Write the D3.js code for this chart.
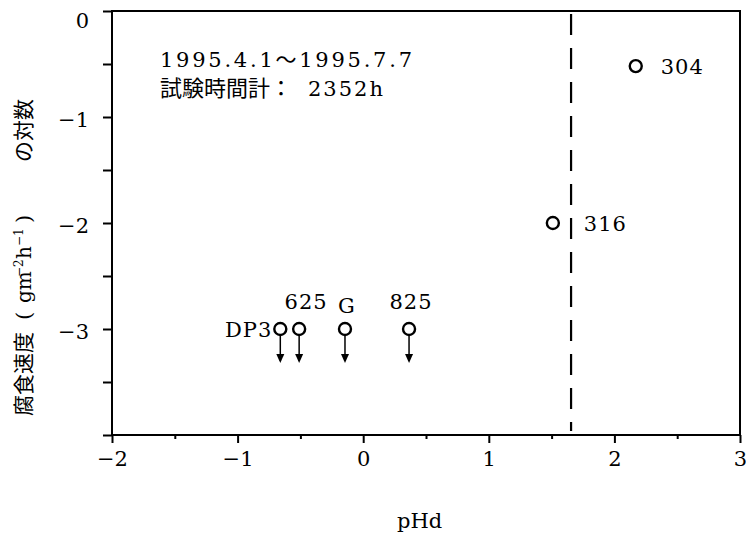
<!DOCTYPE html>
<html><head><meta charset="utf-8">
<script src="https://cdn.jsdelivr.net/npm/d3@7"></script>
<style>body{margin:0;background:#fff}</style></head>
<body><svg id="c" width="746" height="544"></svg>
<script>
const names = ["DP3","625","G","825","316","304"];
const pHd = [-0.66,-0.51,-0.145,0.365,1.51,2.17];
const logRate = [-3,-3,-3,-3,-2,-0.52];
const belowLimit = [true,true,true,true,false,false];
const xTicks = [-2,-1,0,1,2,3];
const yTicks = [0,-1,-2,-3];
const thresholdPHd = 1.655;
const notePeriod = "1995.4.1～1995.7.7";
const noteHours = ["試験時間計：","2352h"];

const font = "'DejaVu Serif','Liberation Serif','Noto Sans CJK JP',serif";
const cjk = "'Noto Sans CJK JP','DejaVu Serif',sans-serif";
const svg = d3.select("#c");
const x = d3.scaleLinear().domain([-2,3]).range([112,740]);
const y = d3.scaleLinear().domain([-4,0]).range([435,11]);
const fmt = d => d<0 ? "−"+(-d) : String(d);

// frame
svg.append("rect").attr("x",x(-2)).attr("y",y(0)).attr("width",x(3)-x(-2)).attr("height",y(-4)-y(0))
  .attr("fill","none").attr("stroke","#000").attr("stroke-width",2);

// x axis
const xAxis = d3.axisBottom(x).tickValues(d3.range(-2,3.01,0.5)).tickSize(7)
  .tickFormat(d=>xTicks.includes(d)?fmt(d):"");
const gx = svg.append("g").attr("transform",`translate(0,${y(-4)})`).call(xAxis);
gx.select(".domain").remove();
gx.selectAll(".tick line").attr("stroke-width",2).attr("y2",d=>Number.isInteger(d)?8:4);
gx.selectAll(".tick text").attr("font-family",font).attr("font-size",21).attr("y",14).attr("dy","0.8em")
  .attr("fill","#000");

// y axis
const yAxis = d3.axisLeft(y).tickValues(d3.range(-4,0.01,0.5)).tickSize(9)
  .tickFormat(d=>yTicks.includes(d)?fmt(d):"");
const gy = svg.append("g").attr("transform",`translate(${x(-2)},0)`).call(yAxis);
gy.select(".domain").remove();
gy.selectAll(".tick line").attr("stroke-width",2);
gy.selectAll(".tick text").attr("font-family",font).attr("font-size",21).attr("fill","#000").attr("x",-23)
  .attr("dy",d=>d===0?"0.78em":"0.45em");

// dashed threshold line
svg.append("line").attr("x1",x(thresholdPHd)).attr("x2",x(thresholdPHd)).attr("y1",y(0)+3).attr("y2",y(-4)-4)
  .attr("stroke","#000").attr("stroke-width",2.2).attr("stroke-dasharray","21,13");

// arrows for values below detection
const data = names.map((n,i)=>({n,x:pHd[i],y:logRate[i],b:belowLimit[i]}));
data.filter(d=>d.b).forEach(d=>{
  const cx=x(d.x), cy=y(d.y);
  svg.append("line").attr("x1",cx).attr("x2",cx).attr("y1",cy+6).attr("y2",cy+32).attr("stroke","#000").attr("stroke-width",1.5);
  svg.append("path").attr("d",`M${cx-4},${cy+25} L${cx},${cy+34} L${cx+4},${cy+25} Z`).attr("fill","#000");
});
svg.selectAll("circle.pt").data(data).enter().append("circle").attr("class","pt")
  .attr("cx",d=>x(d.x)).attr("cy",d=>y(d.y)).attr("r",6).attr("fill","#fff").attr("stroke","#000").attr("stroke-width",2.4);

// point labels
const lab = {
  "DP3":{dx:-8,dy:8,a:"end"},
  "625":{dx:7,dy:-20,a:"middle"},
  "G":{dx:2,dy:-16,a:"middle"},
  "825":{dx:2,dy:-20,a:"middle"},
  "316":{dx:31,dy:8,a:"start"},
  "304":{dx:25,dy:8,a:"start"}
};
svg.selectAll("text.lab").data(data).enter().append("text").attr("class","lab")
  .attr("x",d=>x(d.x)+lab[d.n].dx).attr("y",d=>y(d.y)+lab[d.n].dy).attr("text-anchor",d=>lab[d.n].a)
  .attr("font-family",font).attr("font-size",21).attr("letter-spacing",1).text(d=>d.n);

// note
svg.append("text").attr("x",160).attr("y",67).attr("font-family",font).attr("font-size",21)
  .attr("textLength",252).attr("lengthAdjust","spacing").text(notePeriod);
svg.append("text").attr("x",160).attr("y",96).attr("font-family",font).attr("font-size",22).text(noteHours[0]);
svg.append("text").attr("x",308).attr("y",96).attr("font-family",font).attr("font-size",21)
  .attr("letter-spacing",2).text(noteHours[1]);

// axis titles
svg.append("text").attr("x",x(0.45)).attr("y",528).attr("text-anchor","middle").attr("font-family",font)
  .attr("font-size",21).text("pHd");
const yg = svg.append("g").attr("transform","translate(31,416) rotate(-90)");
const yParts = [
  {t:"腐食速度",p:0,f:cjk,s:21,dy:0},
  {t:"(",p:96,f:font,s:21,dy:0},
  {t:"gm",p:113,f:font,s:20,dy:0},
  {t:"−2",p:139,f:font,s:12,dy:-8},
  {t:"h",p:157,f:font,s:20,dy:0},
  {t:"−1",p:170,f:font,s:12,dy:-8},
  {t:")",p:193,f:font,s:21,dy:0},
  {t:"の対数",p:254,f:cjk,s:21,dy:0}
];
yg.selectAll("text").data(yParts).enter().append("text").attr("x",d=>d.p).attr("y",d=>d.dy)
  .attr("font-family",d=>d.f).attr("font-size",d=>d.s).text(d=>d.t);
</script></body></html>
